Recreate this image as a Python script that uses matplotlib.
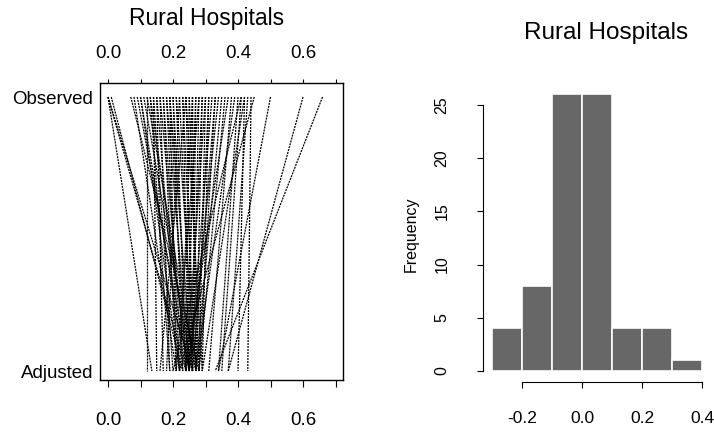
import matplotlib
matplotlib.use("Agg")
import matplotlib.pyplot as plt
import numpy as np

plt.rcParams['font.family'] = ['Liberation Sans', 'DejaVu Sans']

title = "Rural Hospitals"
row_labels = ["Adjusted", "Observed"]

# per-hospital rates (observed -> adjusted)
observed = [0.00, 0.00, 0.01, 0.07, 0.00, 0.08, 0.09, 0.10, 0.11, 0.12, 0.13, 0.10,
            0.14, 0.15, 0.16, 0.17, 0.18, 0.19, 0.20, 0.21, 0.13, 0.15, 0.16, 0.18, 0.19,
            0.20, 0.22, 0.23, 0.24, 0.25, 0.23, 0.24, 0.26, 0.17, 0.21, 0.14, 0.12, 0.19,
            0.26, 0.27, 0.28, 0.29, 0.30, 0.31, 0.32, 0.33, 0.25, 0.26, 0.28, 0.29, 0.30,
            0.27, 0.31, 0.33, 0.34, 0.35, 0.36, 0.24, 0.22, 0.38, 0.40, 0.41, 0.43, 0.42,
            0.37, 0.39, 0.42, 0.50, 0.60, 0.45, 0.41, 0.44, 0.66]
adjusted = [0.24, 0.26, 0.23, 0.28, 0.135, 0.21, 0.25, 0.24, 0.26, 0.27, 0.25, 0.22,
            0.20, 0.22, 0.24, 0.21, 0.25, 0.26, 0.23, 0.27, 0.19, 0.17, 0.19, 0.22, 0.24,
            0.25, 0.26, 0.25, 0.26, 0.28, 0.27, 0.29, 0.27, 0.23, 0.24, 0.15, 0.12, 0.21,
            0.25, 0.24, 0.26, 0.25, 0.24, 0.27, 0.25, 0.26, 0.24, 0.22, 0.21, 0.27, 0.28,
            0.26, 0.29, 0.28, 0.25, 0.27, 0.28, 0.16, 0.18, 0.31, 0.34, 0.35, 0.37, 0.40,
            0.24, 0.27, 0.29, 0.34, 0.37, 0.22, 0.20, 0.43, 0.33]

left_ticks = [0.0, 0.1, 0.2, 0.3, 0.4, 0.5, 0.6, 0.7]
left_tick_labels = ["0.0", "", "0.2", "", "0.4", "", "0.6", ""]

# histogram of differences
bin_edges = [-0.3, -0.2, -0.1, 0.0, 0.1, 0.2, 0.3, 0.4]
counts = [4, 8, 26, 26, 4, 4, 1]
hist_xticks = [-0.2, 0.0, 0.2, 0.4]
hist_xtick_labels = ["-0.2", "0.0", "0.2", "0.4"]
hist_yticks = [0, 5, 10, 15, 20, 25]
ylabel = "Frequency"

W, H = 714, 432
fig = plt.figure(figsize=(W / 100, H / 100), dpi=100)

def box(l, t, r, b):
    return [l / W, (H - b) / H, (r - l) / W, (b - t) / H]

# ---- left panel
ax = fig.add_axes(box(100, 83, 343, 380))
for o, a in zip(observed, adjusted):
    ax.plot([o, a], [1, 0], color='black', lw=0.9, ls=(0, (1.6, 0.8)))
ax.set_xlim(-0.0246, 0.723)
ax.set_ylim(-0.0328, 1.0511)
ax.set_xticks(left_ticks)
ax.set_xticklabels(left_tick_labels, fontsize=13.5)
ax.tick_params(axis='x', direction='out', length=5, width=0.8, pad=18)
ax.set_yticks([0, 1])
ax.set_yticklabels(row_labels, fontsize=13.5)
ax.tick_params(axis='y', length=0, pad=5)
for s in ax.spines.values():
    s.set_linewidth(1.0)
sec = ax.secondary_xaxis('top')
sec.set_xticks(left_ticks)
sec.set_xticklabels(left_tick_labels, fontsize=13.5)
sec.tick_params(direction='out', length=3, width=0.8, pad=12)
sec.spines['top'].set_visible(False)
fig.text(207 / W, 1 - 19 / H, title, ha='center', va='center', fontsize=16.5)

# ---- right panel
ax2 = fig.add_axes(box(492, 94.3, 702, 371))
lefts = bin_edges[:-1]
widths = np.diff(bin_edges)
ax2.bar(lefts, counts, width=widths, align='edge', color='#676767',
        edgecolor='white', linewidth=1.2)
ax2.set_xlim(-0.3, 0.4)
ax2.set_ylim(0, 26)
for side in ['top', 'right']:
    ax2.spines[side].set_visible(False)
ax2.spines['left'].set_position(('outward', 6.5))
ax2.spines['bottom'].set_position(('outward', 8))
ax2.spines['left'].set_bounds(0, 25)
ax2.spines['bottom'].set_bounds(-0.2, 0.4)
ax2.set_xticks(hist_xticks)
ax2.set_xticklabels(hist_xtick_labels, fontsize=12.5)
ax2.set_yticks(hist_yticks)
ax2.set_yticklabels([str(v) for v in hist_yticks], fontsize=11.5, rotation=90, va='center')
ax2.tick_params(axis='x', direction='out', length=4, width=0.8, pad=17)
ax2.tick_params(axis='y', direction='out', length=4, width=0.8, pad=20)
fig.text(411 / W, 1 - 234 / H, ylabel, rotation=90, ha='center', va='center', fontsize=11.5)
fig.text(606 / W, 1 - 33 / H, title, ha='center', va='center', fontsize=17.5)

fig.savefig("out.png", dpi=100)
